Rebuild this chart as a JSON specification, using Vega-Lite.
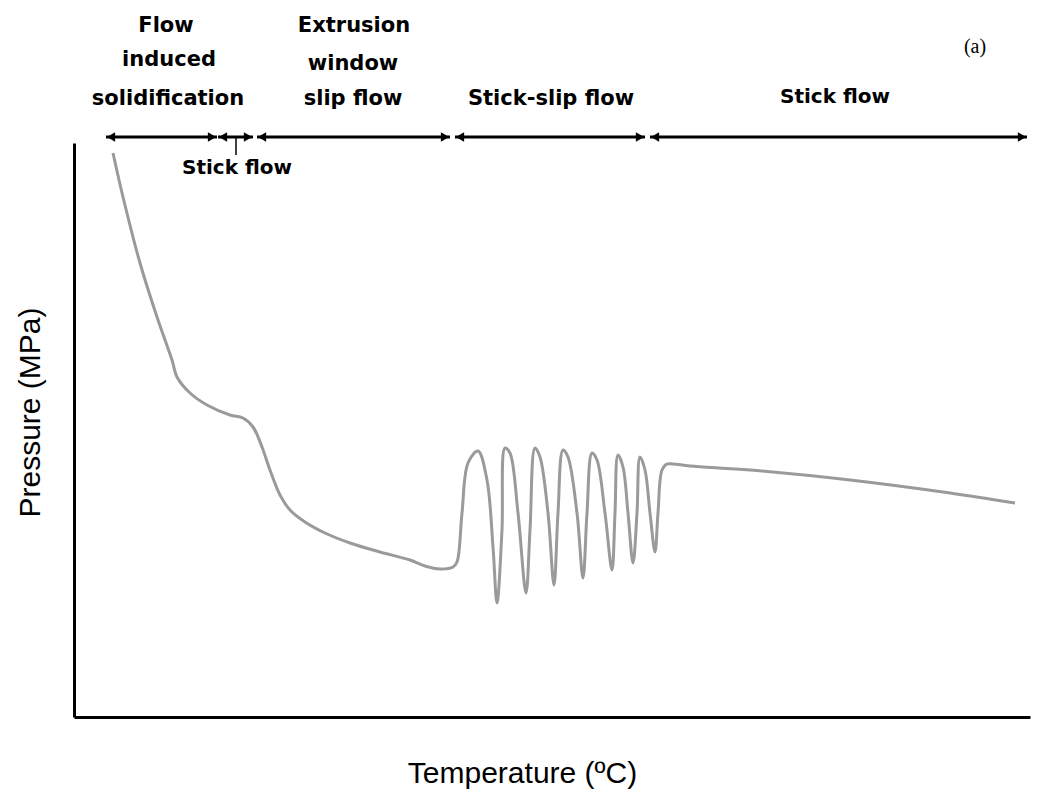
{
  "$schema": "https://vega.github.io/schema/vega-lite/v6.json",
  "autosize": {"type": "none"},
  "padding": {"left": 74, "top": 143, "right": 14, "bottom": 77},
  "width": 956,
  "height": 574,
  "background": "white",
  "config": {"view": {"stroke": null}},
  "datasets": {
    "curve": [
      {"x": 39, "y": 564}, {"x": 49, "y": 520}, {"x": 66, "y": 454}, {"x": 83, "y": 400},
      {"x": 98, "y": 357}, {"x": 103, "y": 340}, {"x": 116, "y": 324}, {"x": 133, "y": 312},
      {"x": 156, "y": 302}, {"x": 169, "y": 299}, {"x": 179, "y": 290}, {"x": 188, "y": 270},
      {"x": 196, "y": 247}, {"x": 206, "y": 222}, {"x": 216, "y": 207}, {"x": 231, "y": 195},
      {"x": 251, "y": 184}, {"x": 276, "y": 174}, {"x": 306, "y": 165}, {"x": 336, "y": 157},
      {"x": 351, "y": 151}, {"x": 366, "y": 148}, {"x": 379, "y": 150}, {"x": 383, "y": 155},
      {"x": 388, "y": 204}, {"x": 394, "y": 254}, {"x": 404, "y": 266}, {"x": 413, "y": 237},
      {"x": 419, "y": 170}, {"x": 423, "y": 114}, {"x": 428, "y": 187}, {"x": 431, "y": 269},
      {"x": 436, "y": 264}, {"x": 444, "y": 204}, {"x": 452, "y": 124}, {"x": 456, "y": 187},
      {"x": 461, "y": 269}, {"x": 466, "y": 260}, {"x": 474, "y": 204}, {"x": 480, "y": 132},
      {"x": 484, "y": 204}, {"x": 489, "y": 267}, {"x": 494, "y": 260}, {"x": 503, "y": 204},
      {"x": 509, "y": 139}, {"x": 513, "y": 204}, {"x": 518, "y": 264}, {"x": 523, "y": 257},
      {"x": 531, "y": 204}, {"x": 538, "y": 147}, {"x": 541, "y": 204}, {"x": 544, "y": 262},
      {"x": 549, "y": 250}, {"x": 554, "y": 204}, {"x": 559, "y": 154}, {"x": 563, "y": 204},
      {"x": 566, "y": 260}, {"x": 571, "y": 247}, {"x": 576, "y": 204}, {"x": 581, "y": 165},
      {"x": 584, "y": 204}, {"x": 588, "y": 247}, {"x": 593, "y": 253}, {"x": 599, "y": 253},
      {"x": 616, "y": 251}, {"x": 676, "y": 247}, {"x": 776, "y": 237}, {"x": 876, "y": 224},
      {"x": 941, "y": 214}
    ],
    "segments": [
      {"x": 32, "x2": 143, "y": 580},
      {"x": 144, "x2": 179, "y": 580},
      {"x": 183, "x2": 376, "y": 580},
      {"x": 381, "x2": 571, "y": 580},
      {"x": 576, "x2": 953, "y": 580}
    ],
    "heads": [
      {"x": 37, "y": 580, "dir": "left"}, {"x": 138, "y": 580, "dir": "right"},
      {"x": 149, "y": 580, "dir": "left"}, {"x": 174, "y": 580, "dir": "right"},
      {"x": 188, "y": 580, "dir": "left"}, {"x": 371, "y": 580, "dir": "right"},
      {"x": 386, "y": 580, "dir": "left"}, {"x": 566, "y": 580, "dir": "right"},
      {"x": 581, "y": 580, "dir": "left"}, {"x": 948, "y": 580, "dir": "right"}
    ],
    "pointer": [{"x": 162, "y": 580, "y2": 562}],
    "labels": [
      {"label": "Flow", "x": 92, "y": 685},
      {"label": "induced", "x": 95, "y": 651},
      {"label": "solidification", "x": 94, "y": 612},
      {"label": "Extrusion", "x": 280, "y": 685},
      {"label": "window", "x": 279, "y": 647},
      {"label": "slip flow", "x": 279, "y": 612},
      {"label": "Stick-slip flow", "x": 477, "y": 612}
    ],
    "sticklabels": [
      {"label": "Stick flow", "x": 761, "y": 614},
      {"label": "Stick flow", "x": 163, "y": 543}
    ],
    "panel": [{"label": "(a)", "x": 901, "y": 664}]
  },
  "encoding": {
    "x": {"field": "x", "type": "quantitative", "scale": {"domain": [0, 956], "nice": false, "zero": false},
      "axis": {"title": "Temperature (\u00baC)", "domainColor": "black", "domainWidth": 3, "ticks": false, "labels": false, "grid": false,
        "titleFont": "Liberation Sans", "titleFontSize": 30, "titleFontWeight": "normal", "titleColor": "black",
        "titleX": 448, "titleY": 56, "titleAlign": "center", "titleBaseline": "middle"}},
    "y": {"field": "y", "type": "quantitative", "scale": {"domain": [0, 574], "nice": false, "zero": false},
      "axis": {"title": "Pressure (MPa)", "domainColor": "black", "domainWidth": 3, "ticks": false, "labels": false, "grid": false,
        "titleFont": "Liberation Sans", "titleFontSize": 30, "titleFontWeight": "normal", "titleColor": "black",
        "titleX": -44, "titleY": 269, "titleAngle": 270, "titleAlign": "center", "titleBaseline": "middle"}}
  },
  "layer": [
    {"data": {"name": "curve"}, "mark": {"type": "line", "color": "#9a9a9a", "strokeWidth": 3, "interpolate": "catmull-rom", "clip": false}},
    {"data": {"name": "segments"}, "mark": {"type": "rule", "color": "black", "strokeWidth": 3},
      "encoding": {"x2": {"field": "x2"}}},
    {"data": {"name": "heads"}, "mark": {"type": "point", "filled": true, "color": "black", "opacity": 1, "size": 90},
      "encoding": {"shape": {"field": "dir", "type": "nominal", "scale": {"domain": ["left", "right"], "range": ["triangle-left", "triangle-right"]}, "legend": null}}},
    {"data": {"name": "pointer"}, "mark": {"type": "rule", "color": "black", "strokeWidth": 1.5},
      "encoding": {"y2": {"field": "y2"}}},
    {"data": {"name": "labels"}, "mark": {"type": "text", "font": "DejaVu Sans", "fontSize": 21, "fontWeight": "bold", "color": "black", "align": "center", "baseline": "alphabetic"},
      "encoding": {"text": {"field": "label"}}},
    {"data": {"name": "sticklabels"}, "mark": {"type": "text", "font": "DejaVu Sans", "fontSize": 20, "fontWeight": "bold", "color": "black", "align": "center", "baseline": "alphabetic"},
      "encoding": {"text": {"field": "label"}}},
    {"data": {"name": "panel"}, "mark": {"type": "text", "font": "Liberation Serif", "fontSize": 20, "color": "black", "align": "center", "baseline": "alphabetic"},
      "encoding": {"text": {"field": "label"}}}
  ]
}
